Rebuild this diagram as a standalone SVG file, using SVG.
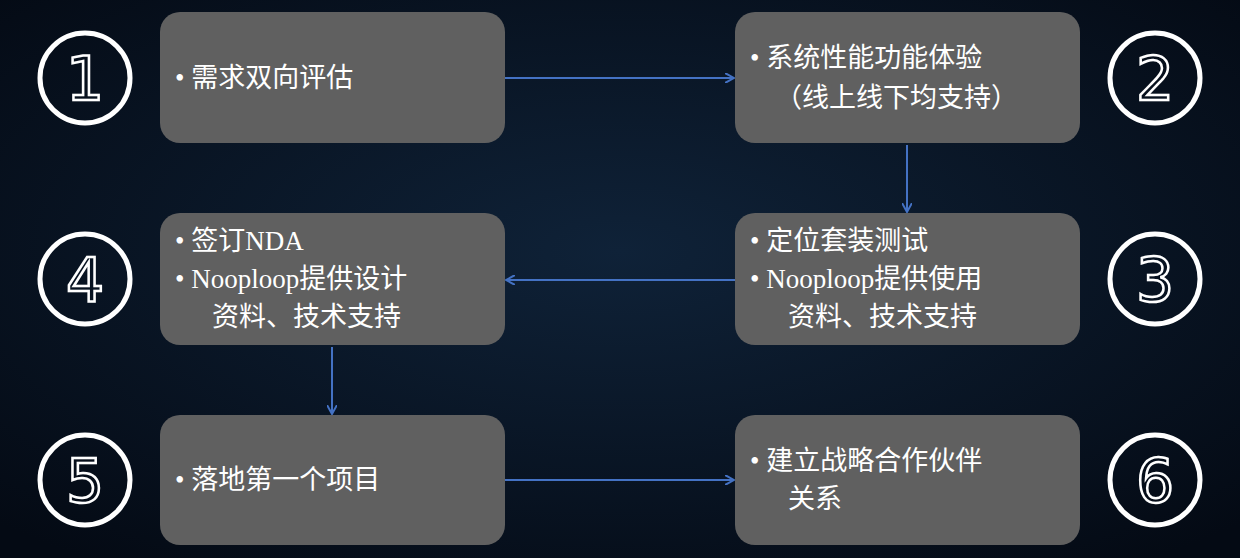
<svg xmlns="http://www.w3.org/2000/svg" width="1240" height="558" viewBox="0 0 1240 558">
<style>
.box{fill:#606060}
.c{fill:none;stroke:#fff;stroke-width:5}
.n{font-family:"DejaVu Sans",sans-serif;font-size:60px;fill:none;stroke:#fff;stroke-width:2.5;text-anchor:middle}
.t{font-family:"Liberation Serif","Noto Sans CJK SC",serif;font-size:27px;fill:#fff}
.ln{stroke:#4472C4;stroke-width:2;fill:none;marker-end:url(#a)}
</style>
<defs>
<radialGradient id="bg" cx="50%" cy="45%" r="70%"><stop offset="0" stop-color="#0f2238"/><stop offset="1" stop-color="#040a14"/></radialGradient>
<marker id="a" markerWidth="10" markerHeight="10" refX="8" refY="5" orient="auto" markerUnits="userSpaceOnUse"><path d="M0,0 L9,5 L0,10" fill="none" stroke="#4472C4" stroke-width="2"/></marker>
</defs>
<rect width="1240" height="558" fill="url(#bg)"/>
<g id="connectors">
<line class="ln" x1="505" y1="78" x2="733" y2="78"/>
<line class="ln" x1="907" y1="145" x2="907" y2="211"/>
<line class="ln" x1="735" y1="280" x2="507" y2="280"/>
<line class="ln" x1="332" y1="347" x2="332" y2="413"/>
<line class="ln" x1="505" y1="480" x2="733" y2="480"/>
</g>
<g id="n1"><circle class="c" cx="85" cy="78" r="45"/><text class="n" x="85" y="100">1</text>
<rect class="box" x="160" y="12" width="345" height="131" rx="20"/><text class="t" x="175" y="87">•   需求双向评估</text></g>
<g id="n2"><circle class="c" cx="1155" cy="78" r="45"/><text class="n" x="1155" y="100">2</text>
<rect class="box" x="735" y="12" width="345" height="131" rx="20"/><text class="t" x="750" y="67">•   系统性能功能体验</text><text class="t" x="775" y="107">（线上线下均支持）</text></g>
<g id="n3"><circle class="c" cx="1155" cy="279" r="45"/><text class="n" x="1155" y="301">3</text>
<rect class="box" x="735" y="213" width="345" height="132" rx="20"/><text class="t" x="750" y="250">•   定位套装测试</text><text class="t" x="750" y="288">•  Nooploop提供使用</text><text class="t" x="788" y="326">资料、技术支持</text></g>
<g id="n4"><circle class="c" cx="85" cy="279" r="45"/><text class="n" x="85" y="301">4</text>
<rect class="box" x="160" y="213" width="345" height="132" rx="20"/><text class="t" x="175" y="250">•   签订NDA</text><text class="t" x="175" y="288">•  Nooploop提供设计</text><text class="t" x="212" y="326">资料、技术支持</text></g>
<g id="n5"><circle class="c" cx="85" cy="480" r="45"/><text class="n" x="85" y="502">5</text>
<rect class="box" x="160" y="415" width="345" height="130" rx="20"/><text class="t" x="175" y="489">•   落地第一个项目</text></g>
<g id="n6"><circle class="c" cx="1155" cy="480" r="45"/><text class="n" x="1155" y="502">6</text>
<rect class="box" x="735" y="415" width="345" height="130" rx="20"/><text class="t" x="750" y="470">•   建立战略合作伙伴</text><text class="t" x="788" y="508">关系</text></g>
</svg>
